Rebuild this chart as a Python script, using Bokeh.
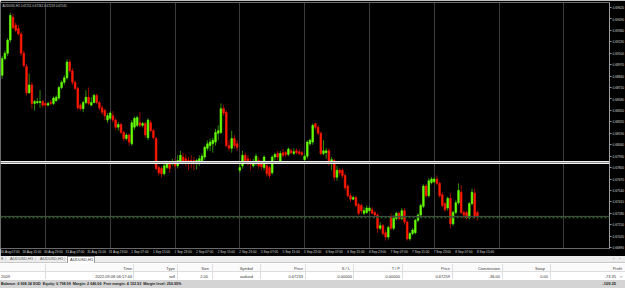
from bokeh.plotting import figure
from bokeh.models import (Range1d, FixedTicker, Span, Label, Div, ColumnDataSource,
                          PrintfTickFormatter)
from bokeh.layouts import column
from bokeh.embed import file_html
from bokeh.resources import INLINE

# ---------------- data (AUDUSD, H1) ----------------
opens = [0.6885, 0.6904, 0.6910, 0.6925, 0.6951, 0.6942, 0.6938, 0.6932, 0.6910, 0.6895,
         0.6865, 0.6874, 0.6853, 0.6854, 0.6854, 0.6855, 0.6853, 0.6851, 0.6854, 0.6853,
         0.6856, 0.6859, 0.6871, 0.6877, 0.6882, 0.6900, 0.6890, 0.6877, 0.6870, 0.6851,
         0.6847, 0.6854, 0.6860, 0.6851, 0.6854, 0.6862, 0.6854, 0.6848, 0.6845, 0.6834,
         0.6836, 0.6839, 0.6834, 0.6826, 0.6829, 0.6820, 0.6813, 0.6817, 0.6807, 0.6826,
         0.6828, 0.6831, 0.6828, 0.6830, 0.6814, 0.6831, 0.6822, 0.6813, 0.6780, 0.6779,
         0.6773, 0.6780, 0.6786, 0.6785, 0.6785, 0.6782, 0.6786, 0.6792, 0.6790, 0.6788,
         0.6788, 0.6788, 0.6785, 0.6786, 0.6788, 0.6792, 0.6802, 0.6805, 0.6807, 0.6809,
         0.6819, 0.6820, 0.6847, 0.6843, 0.6805, 0.6802, 0.6813, 0.6807, 0.6777, 0.6782,
         0.6794, 0.6790, 0.6786, 0.6782, 0.6785, 0.6788, 0.6786, 0.6780, 0.6782, 0.6780,
         0.6774, 0.6792, 0.6796, 0.6787, 0.6797, 0.6797, 0.6795, 0.6799, 0.6796, 0.6799,
         0.6798, 0.6797, 0.6789, 0.6793, 0.6807, 0.6809, 0.6830, 0.6826, 0.6819, 0.6796,
         0.6797, 0.6799, 0.6785, 0.6788, 0.6769, 0.6777, 0.6777, 0.6771, 0.6759, 0.6748,
         0.6744, 0.6746, 0.6738, 0.6737, 0.6728, 0.6729, 0.6731, 0.6732, 0.6729, 0.6726,
         0.6711, 0.6714, 0.6706, 0.6701, 0.6723, 0.6711, 0.6722, 0.6728, 0.6722, 0.6731,
         0.6718, 0.6699, 0.6705, 0.6706, 0.6720, 0.6726, 0.6736, 0.6759, 0.6748, 0.6763,
         0.6764, 0.6767, 0.6762, 0.6749, 0.6739, 0.6734, 0.6745, 0.6716, 0.6729, 0.6740,
         0.6752, 0.6729, 0.6729, 0.6723, 0.6739, 0.6751, 0.6729]

highs = [0.6907, 0.6913, 0.6927, 0.6956, 0.6955, 0.6945, 0.6942, 0.6934, 0.6913, 0.6898,
         0.6887, 0.6877, 0.6857, 0.6859, 0.6868, 0.6857, 0.6855, 0.6855, 0.6857, 0.6861,
         0.6862, 0.6873, 0.6879, 0.6885, 0.6903, 0.6903, 0.6893, 0.6879, 0.6872, 0.6853,
         0.6856, 0.6868, 0.6871, 0.6860, 0.6864, 0.6864, 0.6856, 0.6851, 0.6847, 0.6842,
         0.6844, 0.6844, 0.6836, 0.6832, 0.6831, 0.6822, 0.6819, 0.6819, 0.6834, 0.6838,
         0.6839, 0.6843, 0.6832, 0.6832, 0.6836, 0.6834, 0.6824, 0.6815, 0.6782, 0.6781,
         0.6788, 0.6788, 0.6788, 0.6790, 0.6790, 0.6794, 0.6799, 0.6797, 0.6795, 0.6792,
         0.6794, 0.6792, 0.6790, 0.6794, 0.6796, 0.6805, 0.6811, 0.6813, 0.6814, 0.6824,
         0.6828, 0.6853, 0.6851, 0.6845, 0.6811, 0.6822, 0.6817, 0.6811, 0.6785, 0.6799,
         0.6797, 0.6794, 0.6790, 0.6790, 0.6796, 0.6792, 0.6788, 0.6794, 0.6786, 0.6782,
         0.6794, 0.6797, 0.6799, 0.6799, 0.6801, 0.6799, 0.6803, 0.6802, 0.6802, 0.6802,
         0.6801, 0.6799, 0.6796, 0.6811, 0.6813, 0.6830, 0.6831, 0.6828, 0.6821, 0.6811,
         0.6802, 0.6802, 0.6792, 0.6790, 0.6782, 0.6779, 0.6779, 0.6773, 0.6761, 0.6751,
         0.6748, 0.6748, 0.6740, 0.6739, 0.6735, 0.6737, 0.6736, 0.6735, 0.6731, 0.6728,
         0.6718, 0.6716, 0.6709, 0.6714, 0.6728, 0.6726, 0.6730, 0.6730, 0.6734, 0.6734,
         0.6720, 0.6707, 0.6711, 0.6722, 0.6728, 0.6739, 0.6761, 0.6761, 0.6768, 0.6769,
         0.6769, 0.6771, 0.6764, 0.6752, 0.6741, 0.6747, 0.6751, 0.6731, 0.6743, 0.6762,
         0.6760, 0.6731, 0.6731, 0.6741, 0.6756, 0.6756, 0.6731]

lows = [0.6881, 0.6902, 0.6907, 0.6922, 0.6938, 0.6934, 0.6930, 0.6907, 0.6894, 0.6862,
        0.6864, 0.6847, 0.6845, 0.6852, 0.6848, 0.6848, 0.6848, 0.6850, 0.6851, 0.6851,
        0.6855, 0.6857, 0.6869, 0.6874, 0.6880, 0.6888, 0.6874, 0.6868, 0.6845, 0.6845,
        0.6843, 0.6852, 0.6851, 0.6850, 0.6853, 0.6852, 0.6845, 0.6840, 0.6834, 0.6831,
        0.6834, 0.6831, 0.6823, 0.6822, 0.6818, 0.6810, 0.6811, 0.6805, 0.6805, 0.6823,
        0.6826, 0.6826, 0.6826, 0.6814, 0.6811, 0.6820, 0.6812, 0.6777, 0.6771, 0.6769,
        0.6771, 0.6778, 0.6774, 0.6782, 0.6779, 0.6779, 0.6784, 0.6784, 0.6781, 0.6777,
        0.6779, 0.6777, 0.6778, 0.6782, 0.6786, 0.6789, 0.6799, 0.6799, 0.6797, 0.6805,
        0.6811, 0.6818, 0.6839, 0.6803, 0.6799, 0.6797, 0.6802, 0.6799, 0.6774, 0.6779,
        0.6786, 0.6782, 0.6777, 0.6780, 0.6782, 0.6779, 0.6777, 0.6777, 0.6770, 0.6768,
        0.6772, 0.6788, 0.6788, 0.6785, 0.6792, 0.6792, 0.6793, 0.6795, 0.6794, 0.6795,
        0.6794, 0.6793, 0.6788, 0.6790, 0.6805, 0.6806, 0.6823, 0.6817, 0.6794, 0.6794,
        0.6790, 0.6782, 0.6777, 0.6765, 0.6765, 0.6771, 0.6768, 0.6754, 0.6746, 0.6741,
        0.6743, 0.6735, 0.6726, 0.6728, 0.6726, 0.6727, 0.6729, 0.6727, 0.6723, 0.6706,
        0.6709, 0.6703, 0.6697, 0.6698, 0.6709, 0.6709, 0.6720, 0.6720, 0.6720, 0.6715,
        0.6697, 0.6697, 0.6703, 0.6704, 0.6718, 0.6723, 0.6734, 0.6746, 0.6746, 0.6761,
        0.6762, 0.6760, 0.6746, 0.6735, 0.6730, 0.6731, 0.6711, 0.6714, 0.6727, 0.6738,
        0.6727, 0.6722, 0.6721, 0.6721, 0.6737, 0.6722, 0.6720]

closes = [0.6904, 0.6910, 0.6925, 0.6953, 0.6939, 0.6936, 0.6932, 0.6910, 0.6896, 0.6865,
          0.6874, 0.6853, 0.6855, 0.6855, 0.6855, 0.6851, 0.6851, 0.6853, 0.6853, 0.6859,
          0.6860, 0.6871, 0.6877, 0.6882, 0.6900, 0.6890, 0.6877, 0.6870, 0.6848, 0.6847,
          0.6854, 0.6860, 0.6853, 0.6854, 0.6862, 0.6854, 0.6848, 0.6843, 0.6839, 0.6839,
          0.6842, 0.6834, 0.6826, 0.6829, 0.6820, 0.6813, 0.6817, 0.6809, 0.6831, 0.6836,
          0.6837, 0.6828, 0.6830, 0.6817, 0.6834, 0.6822, 0.6814, 0.6779, 0.6774, 0.6773,
          0.6782, 0.6785, 0.6779, 0.6786, 0.6782, 0.6788, 0.6794, 0.6786, 0.6786, 0.6785,
          0.6785, 0.6785, 0.6788, 0.6790, 0.6793, 0.6803, 0.6807, 0.6809, 0.6811, 0.6820,
          0.6822, 0.6847, 0.6842, 0.6805, 0.6802, 0.6813, 0.6805, 0.6803, 0.6780, 0.6794,
          0.6788, 0.6785, 0.6784, 0.6786, 0.6793, 0.6782, 0.6781, 0.6792, 0.6773, 0.6771,
          0.6792, 0.6795, 0.6792, 0.6796, 0.6794, 0.6795, 0.6801, 0.6797, 0.6798, 0.6797,
          0.6796, 0.6795, 0.6793, 0.6809, 0.6811, 0.6828, 0.6826, 0.6819, 0.6796, 0.6799,
          0.6799, 0.6785, 0.6789, 0.6769, 0.6777, 0.6774, 0.6771, 0.6757, 0.6748, 0.6744,
          0.6746, 0.6737, 0.6728, 0.6731, 0.6731, 0.6734, 0.6734, 0.6728, 0.6726, 0.6711,
          0.6714, 0.6705, 0.6701, 0.6712, 0.6711, 0.6723, 0.6728, 0.6722, 0.6731, 0.6718,
          0.6699, 0.6705, 0.6709, 0.6720, 0.6726, 0.6737, 0.6759, 0.6748, 0.6765, 0.6767,
          0.6767, 0.6762, 0.6748, 0.6737, 0.6732, 0.6745, 0.6716, 0.6729, 0.6740, 0.6754,
          0.6729, 0.6726, 0.6723, 0.6739, 0.6752, 0.6724, 0.6725]

time_labels = ["30 Aug 07:00", "30 Aug 15:00", "30 Aug 23:00", "31 Aug 07:00", "31 Aug 15:00",
               "31 Aug 23:00", "1 Sep 07:00", "1 Sep 15:00", "1 Sep 23:00", "2 Sep 07:00",
               "2 Sep 15:00", "2 Sep 23:00", "5 Sep 07:00", "5 Sep 15:00", "5 Sep 23:00",
               "6 Sep 07:00", "6 Sep 15:00", "6 Sep 23:00", "7 Sep 07:00", "7 Sep 15:00",
               "7 Sep 23:00", "8 Sep 07:00", "8 Sep 15:00"]
first_label_bar = -1          # bar index of "30 Aug 07:00"
bars_per_label = 8
first_day_bar = 16            # 31 Aug 00:00
bars_per_day = 24

price_top_tick = 0.69620
price_tick_step = 0.00130
n_price_ticks = 22

hline_price = 0.67858         # horizontal line
order_price = 0.67233         # sell order
bid_price = 0.67245

# ---------------- figure ----------------
n = len(closes)
xs = list(range(n))
is_up = [c >= o for o, c in zip(opens, closes)]
src = ColumnDataSource(dict(
    x=xs,
    top=[max(o, c) for o, c in zip(opens, closes)],
    bottom=[min(o, c) for o, c in zip(opens, closes)],
    high=highs, low=lows,
    body=["#66ff00" if u else "#ff1a00" for u in is_up],
    wick=["#2f8c00" if u else "#9c0a00" for u in is_up],
))

FONT = "Liberation Sans"
px_per_bar = 2.7
x_start = -0.63
x_end = x_start + 609 / px_per_bar
p = figure(frame_width=609, frame_height=246, x_range=Range1d(x_start, x_end),
           y_range=Range1d(0.66880, 0.69677), y_axis_location="right",
           output_backend="svg", toolbar_location=None,
           min_border_left=0, min_border_right=16, min_border_top=2, min_border_bottom=6,
           background_fill_color="black", border_fill_color="black",
           outline_line_color="#6a6a6a")

p.segment(x0="x", y0="low", x1="x", y1="high", line_color="wick", line_width=1, source=src)
p.vbar(x="x", width=0.62, top="top", bottom="bottom", fill_color="body",
       line_color="body", line_width=0.6, source=src)

# horizontal levels
p.add_layout(Span(location=hline_price, dimension="width", line_color="#f2f2f2", line_width=3))
p.add_layout(Span(location=hline_price, dimension="width", line_color="#8a8a8a", line_width=1))
p.add_layout(Span(location=bid_price, dimension="width", line_color="#505050", line_width=1))
p.add_layout(Span(location=order_price, dimension="width", line_color="#1d6a1d",
                  line_width=1.5, line_dash="2 2"))

# y axis (right)
ay = p.yaxis[0]
ay.ticker = FixedTicker(ticks=[price_top_tick - k * price_tick_step for k in range(n_price_ticks)])
ay.formatter = PrintfTickFormatter(format="%.5f")
ay.major_label_text_font_size = "3.2px"
ay.major_label_text_font = FONT
ay.major_label_text_color = "#d8d8d8"
ay.major_tick_out = 2
ay.major_tick_in = 0
ay.minor_tick_line_color = None
ay.major_tick_line_color = "#9a9a9a"
ay.axis_line_color = "#9a9a9a"
ay.major_label_standoff = 1

# x axis: labels start at their bar (left aligned look)
label_bars = [first_label_bar + k * bars_per_label for k in range(len(time_labels))]
tick_pos = [b + 4 for b in label_bars]
ax = p.xaxis[0]
ax.ticker = FixedTicker(ticks=tick_pos)
ax.major_label_overrides = {t: lbl for t, lbl in zip(tick_pos, time_labels)}
ax.major_label_text_font_size = "3.2px"
ax.major_label_text_font = FONT
ax.major_label_text_color = "#d8d8d8"
ax.major_tick_line_color = None
ax.minor_tick_line_color = None
ax.axis_line_color = None
ax.major_tick_out = 0
ax.major_tick_in = 0
ax.major_label_standoff = 1

# grid: daily dotted verticals
p.xgrid.ticker = FixedTicker(ticks=[first_day_bar + k * bars_per_day for k in range(9)])
p.xgrid.grid_line_color = "#767676"
p.xgrid.grid_line_dash = "1 1"
p.xgrid.grid_line_width = 1
p.ygrid.visible = False

# price boxes on the axis
p.add_layout(Label(x=x_end + 2 / px_per_bar, y=hline_price, text="%.5f" % hline_price,
                   text_font_size="3.2px", text_font=FONT, text_color="black",
                   text_baseline="middle", background_fill_color="white"))
p.add_layout(Label(x=x_end + 2 / px_per_bar, y=bid_price, text="%.5f" % bid_price,
                   text_font_size="3.2px", text_font=FONT, text_color="black",
                   text_baseline="middle", background_fill_color="#bdbdbd"))
# header text
p.add_layout(Label(x=x_start + 2 / px_per_bar, y=0.69677,
                   text="AUDUSD,H1  0.67251 0.67262 0.67218 0.67245",
                   text_font_size="3px", text_font=FONT, text_color="#d0d0d0",
                   text_baseline="top", y_offset=-1))

# ---------------- terminal panel ----------------
DY = -2  # vertical shift of the whole panel content


def t(x, y, s, align="left", bold=False, color="#333"):
    pos = ("left:%dpx;" % x) if align == "left" else ("right:%dpx;" % (625 - x))
    w = "font-weight:bold;" if bold else ""
    return ('<span style="position:absolute;%s top:%dpx;line-height:6px;white-space:nowrap;'
            'color:%s;%s">%s</span>' % (pos, y + DY, color, w, s))


def box(x, y, w, h, style):
    return ('<div style="position:absolute;left:%dpx;top:%dpx;width:%dpx;height:%dpx;%s"></div>'
            % (x, y + DY, w, h, style))


html = ['<div style="position:relative;width:625px;height:40px;overflow:hidden;background:#ffffff;'
        'font-family:\'Liberation Sans\',Arial,sans-serif;font-size:4px;">']
html.append(box(0, 0, 625, 9, "background:#ececec;border-bottom:1px solid #c8c8c8;"))
html.append(t(1, 2, "8", color="#555"))
html.append(t(5, 2, "|", color="#999"))
html.append(t(10, 2, "AUDUSD,H1", color="#555"))
html.append(t(35, 2, "|", color="#999"))
html.append(t(40, 2, "AUDUSD,H1", color="#555"))
html.append(t(64, 2, "|", color="#999"))
html.append(box(67, 2, 28, 7, "background:#fff;border:1px solid #9a9a9a;border-bottom:none;"))
html.append(t(70, 3, "AUDUSD,H1", color="#333"))
html.append(t(613, 2, "&lsaquo;", color="#777"))
html.append(t(619, 2, "&rsaquo;", color="#777"))
# header row
html.append(box(0, 10, 625, 8, "background:#fafafa;border-bottom:1px solid #dcdcdc;"))
for sx in [45, 133, 177, 212, 260, 305, 353, 402, 452, 502, 550]:
    html.append(box(sx, 10, 1, 15, "background:#dedede;"))
headers = [("Time", 132), ("Type", 175), ("Size", 209), ("Symbol", 253), ("Price", 303),
           ("S / L", 350), ("T / P", 400), ("Price", 450), ("Commission", 500),
           ("Swap", 545), ("Profit", 622)]
for s, xr in headers:
    html.append(t(xr, 12, s, align="right", color="#444"))
row = [("2022.09.08 06:17:44", 132), ("sell", 175), ("2.00", 208), ("audusd", 253),
       ("0.67233", 303), ("0.00000", 352), ("0.00000", 400), ("0.67259", 450),
       ("-36.00", 500), ("0.00", 548), ("-73.35", 616)]
html.append(t(1, 20, "2009", color="#333"))
for s, xr in row:
    html.append(t(xr, 20, s, align="right", color="#333"))
html.append(t(620, 20, "&times;", color="#666"))
# balance row
html.append(box(0, 26, 625, 8, "background:#d4d4d4;"))
html.append('<span style="position:absolute;left:1px;top:%dpx;line-height:6px;white-space:nowrap;'
            'color:#222;font-weight:bold;font-size:3.7px;">Balance: 6 908.34 SGD&nbsp; Equity: 6 798.99&nbsp; '
            'Margin: 2 646.06&nbsp; Free margin: 4 152.93&nbsp; Margin level: 256.95%%</span>' % (27 + DY))
html.append(t(616, 27, "-109.35", align="right", bold=True, color="#222"))
html.append('</div>')

panel = Div(text="".join(html), width=625, height=40, margin=0)

layout = column(p, panel, spacing=0)
open("out.html", "w").write(file_html(layout, INLINE))
